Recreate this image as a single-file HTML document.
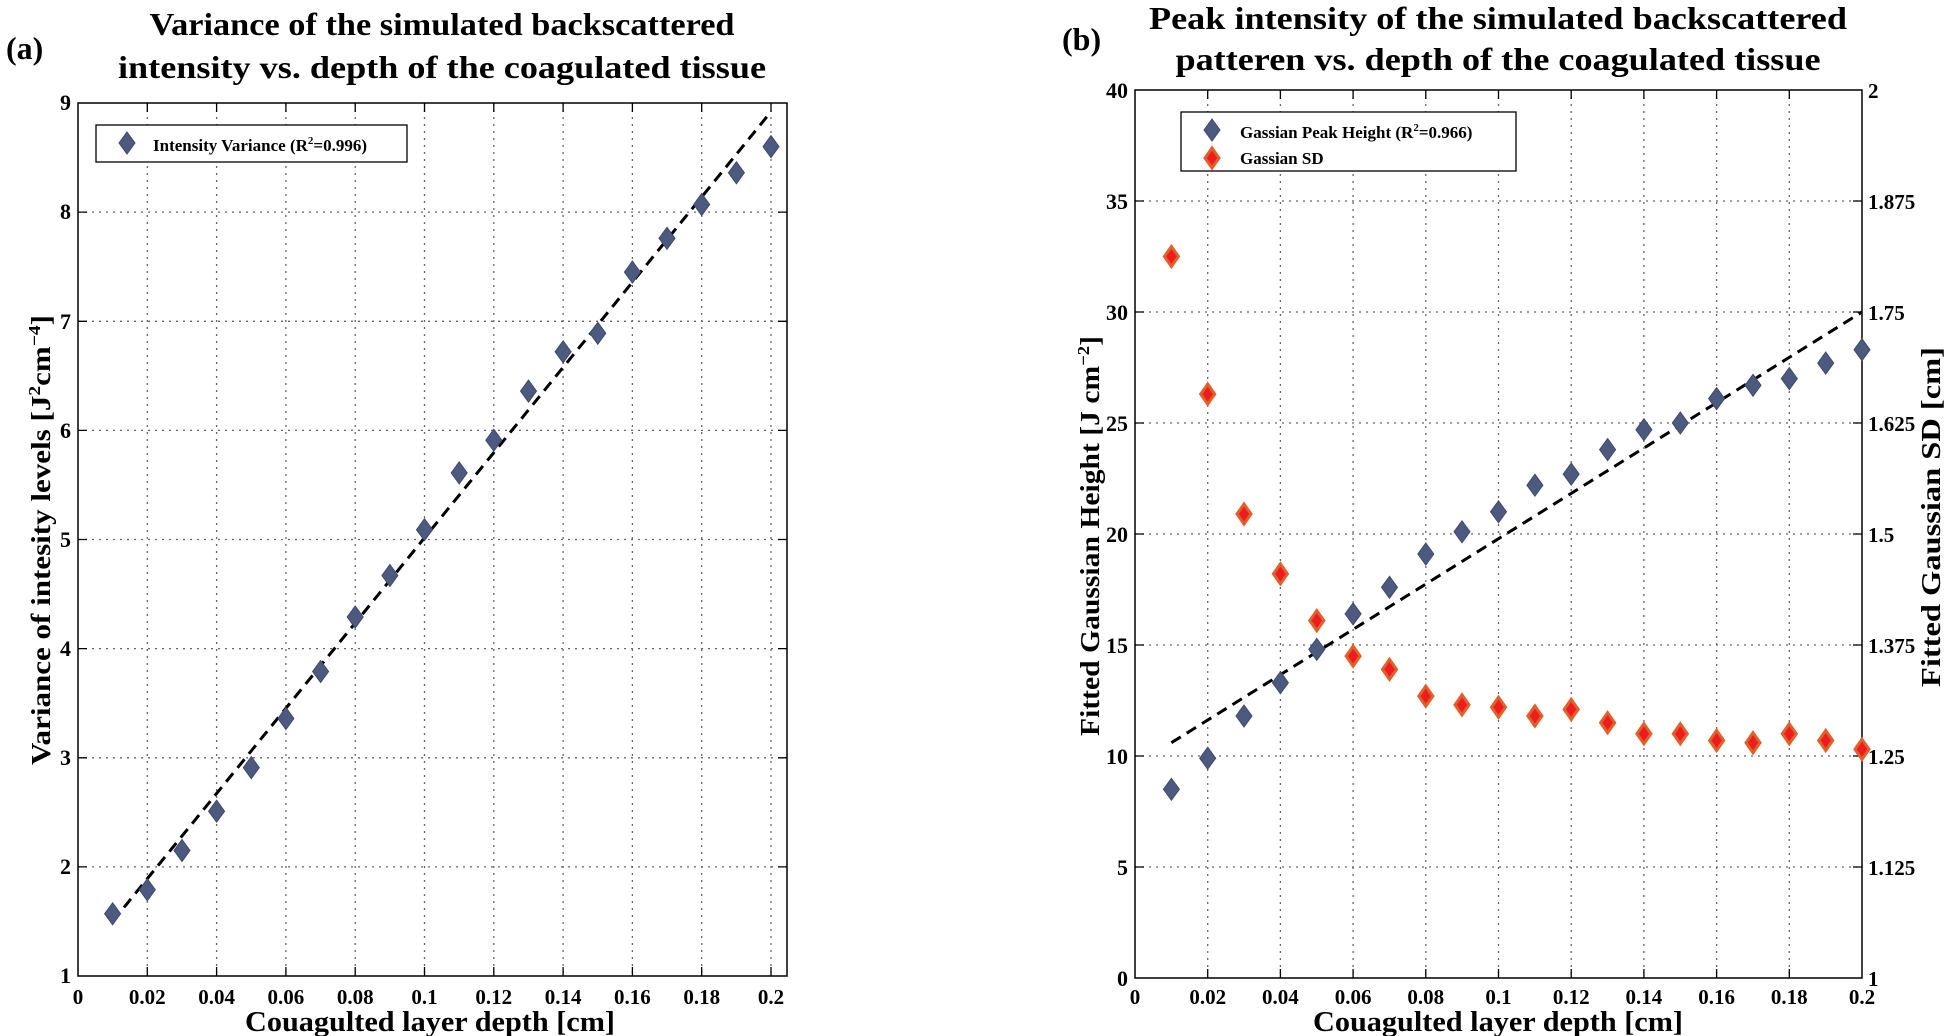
<!DOCTYPE html>
<html><head><meta charset="utf-8"><style>
html,body{margin:0;padding:0;background:#fff;}
svg{display:block;font-family:"Liberation Serif",serif;font-weight:bold;}
</style></head><body>
<svg width="1950" height="1036" viewBox="0 0 1950 1036" xmlns="http://www.w3.org/2000/svg">
<defs>
<path id="db" d="M0,-11 L8,0 0,11 -8,0Z" fill="#4d5a80" stroke="#3e4a6e" stroke-width="1"/>
<path id="dr" d="M0,-10 L7,0 0,10 -7,0Z" fill="#ee1c1c" stroke="#e0602c" stroke-width="3"/>
</defs>

<!-- ===== LEFT PANEL ===== -->
<text x="6" y="59" font-size="32">(a)</text>
<text x="442" y="35" font-size="32" text-anchor="middle" textLength="585" lengthAdjust="spacingAndGlyphs">Variance of the simulated backscattered</text>
<text x="442" y="78" font-size="32" text-anchor="middle" textLength="648" lengthAdjust="spacingAndGlyphs">intensity vs. depth of the coagulated tissue</text>

<g stroke="#666" stroke-width="1.3" stroke-dasharray="2,5" fill="none">
<path d="M147.3,103V976M216.6,103V976M285.9,103V976M355.2,103V976M424.5,103V976M493.8,103V976M563.1,103V976M632.4,103V976M701.7,103V976M771,103V976"/>
<path d="M78,866.9H787M78,757.8H787M78,648.6H787M78,539.5H787M78,430.4H787M78,321.3H787M78,212.1H787"/>
</g>
<rect x="78" y="103" width="709" height="873" fill="none" stroke="#000" stroke-width="1.5"/>
<g stroke="#000" stroke-width="1.3">
<path d="M147.3,976v-9M216.6,976v-9M285.9,976v-9M355.2,976v-9M424.5,976v-9M493.8,976v-9M563.1,976v-9M632.4,976v-9M701.7,976v-9M771,976v-9"/>
<path d="M147.3,103v9M216.6,103v9M285.9,103v9M355.2,103v9M424.5,103v9M493.8,103v9M563.1,103v9M632.4,103v9M701.7,103v9M771,103v9"/>
<path d="M78,866.9h9M78,757.8h9M78,648.6h9M78,539.5h9M78,430.4h9M78,321.3h9M78,212.1h9"/>
<path d="M787,866.9h-9M787,757.8h-9M787,648.6h-9M787,539.5h-9M787,430.4h-9M787,321.3h-9M787,212.1h-9"/>
</g>
<g font-size="22" text-anchor="end">
<text x="71" y="983">1</text><text x="71" y="874">2</text><text x="71" y="765">3</text><text x="71" y="656">4</text><text x="71" y="547">5</text><text x="71" y="438">6</text><text x="71" y="329">7</text><text x="71" y="219">8</text><text x="71" y="110">9</text>
</g>
<g font-size="21" text-anchor="middle">
<text x="78" y="1004">0</text><text x="147.3" y="1004">0.02</text><text x="216.6" y="1004">0.04</text><text x="285.9" y="1004">0.06</text><text x="355.2" y="1004">0.08</text><text x="424.5" y="1004">0.1</text><text x="493.8" y="1004">0.12</text><text x="563.1" y="1004">0.14</text><text x="632.4" y="1004">0.16</text><text x="701.7" y="1004">0.18</text><text x="771" y="1004">0.2</text>
</g>
<text x="430" y="1031" font-size="28" text-anchor="middle" textLength="370" lengthAdjust="spacingAndGlyphs">Couagulted layer depth [cm]</text>
<text transform="translate(50,540) rotate(-90)" font-size="27" text-anchor="middle" textLength="450" lengthAdjust="spacingAndGlyphs">Variance of intesity levels [J<tspan font-size="17" dy="-10">2</tspan><tspan dy="10">cm</tspan><tspan font-size="17" dy="-10">−4</tspan><tspan dy="10">]</tspan></text>

<line x1="112.6" y1="921.4" x2="771" y2="111.7" stroke="#000" stroke-width="3" stroke-dasharray="11,7"/>
<g>
<use href="#db" x="112.6" y="913.8"/><use href="#db" x="147.3" y="889.8"/><use href="#db" x="182" y="850.5"/><use href="#db" x="216.6" y="811.2"/><use href="#db" x="251.3" y="767.6"/><use href="#db" x="285.9" y="718.5"/><use href="#db" x="320.6" y="671.5"/><use href="#db" x="355.2" y="617"/><use href="#db" x="389.9" y="575.5"/><use href="#db" x="424.5" y="529.7"/><use href="#db" x="459.2" y="472.9"/><use href="#db" x="493.8" y="440.2"/><use href="#db" x="528.5" y="391.1"/><use href="#db" x="563.1" y="351.8"/><use href="#db" x="597.8" y="333.3"/><use href="#db" x="632.4" y="272.1"/><use href="#db" x="667" y="238.3"/><use href="#db" x="701.7" y="204.5"/><use href="#db" x="736.4" y="172.8"/><use href="#db" x="771" y="146.6"/>
</g>
<rect x="96" y="125" width="311" height="37" fill="#fff" stroke="#000" stroke-width="1.3"/>
<use href="#db" x="127" y="143"/>
<text x="153" y="151" font-size="17">Intensity Variance (R<tspan font-size="11" dy="-7">2</tspan><tspan dy="7">=0.996)</tspan></text>

<!-- ===== RIGHT PANEL ===== -->
<text x="1062" y="50" font-size="32">(b)</text>
<text x="1498" y="29" font-size="32" text-anchor="middle" textLength="698" lengthAdjust="spacingAndGlyphs">Peak intensity of the simulated  backscattered</text>
<text x="1498" y="70" font-size="32" text-anchor="middle" textLength="645" lengthAdjust="spacingAndGlyphs">patteren vs. depth of the coagulated tissue</text>

<g stroke="#666" stroke-width="1.3" stroke-dasharray="2,5" fill="none">
<path d="M1207.7,90V978M1280.4,90V978M1353.1,90V978M1425.8,90V978M1498.5,90V978M1571.2,90V978M1643.9,90V978M1716.6,90V978M1789.3,90V978"/>
<path d="M1135,867H1862M1135,756H1862M1135,645H1862M1135,534H1862M1135,423H1862M1135,312H1862M1135,201H1862"/>
</g>
<rect x="1135" y="90" width="727" height="888" fill="none" stroke="#000" stroke-width="1.5"/>
<g stroke="#000" stroke-width="1.3">
<path d="M1207.7,978v-9M1280.4,978v-9M1353.1,978v-9M1425.8,978v-9M1498.5,978v-9M1571.2,978v-9M1643.9,978v-9M1716.6,978v-9M1789.3,978v-9"/>
<path d="M1207.7,90v9M1280.4,90v9M1353.1,90v9M1425.8,90v9M1498.5,90v9M1571.2,90v9M1643.9,90v9M1716.6,90v9M1789.3,90v9"/>
<path d="M1135,867h9M1135,756h9M1135,645h9M1135,534h9M1135,423h9M1135,312h9M1135,201h9"/>
<path d="M1862,867h-9M1862,756h-9M1862,645h-9M1862,534h-9M1862,423h-9M1862,312h-9M1862,201h-9"/>
</g>
<g font-size="22" text-anchor="end">
<text x="1128" y="986">0</text><text x="1128" y="875">5</text><text x="1128" y="764">10</text><text x="1128" y="653">15</text><text x="1128" y="542">20</text><text x="1128" y="431">25</text><text x="1128" y="320">30</text><text x="1128" y="209">35</text><text x="1128" y="98">40</text>
</g>
<g font-size="21">
<text x="1868" y="986">1</text><text x="1868" y="875">1.125</text><text x="1868" y="764">1.25</text><text x="1868" y="653">1.375</text><text x="1868" y="542">1.5</text><text x="1868" y="431">1.625</text><text x="1868" y="320">1.75</text><text x="1868" y="209">1.875</text><text x="1868" y="98">2</text>
</g>
<g font-size="21" text-anchor="middle">
<text x="1135" y="1004">0</text><text x="1207.7" y="1004">0.02</text><text x="1280.4" y="1004">0.04</text><text x="1353.1" y="1004">0.06</text><text x="1425.8" y="1004">0.08</text><text x="1498.5" y="1004">0.1</text><text x="1571.2" y="1004">0.12</text><text x="1643.9" y="1004">0.14</text><text x="1716.6" y="1004">0.16</text><text x="1789.3" y="1004">0.18</text><text x="1862" y="1004">0.2</text>
</g>
<text x="1498" y="1031" font-size="28" text-anchor="middle" textLength="370" lengthAdjust="spacingAndGlyphs">Couagulted layer depth [cm]</text>
<text transform="translate(1099,536) rotate(-90)" font-size="27" text-anchor="middle" textLength="400" lengthAdjust="spacingAndGlyphs">Fitted Gaussian Height [J cm<tspan font-size="17" dy="-10">−2</tspan><tspan dy="10">]</tspan></text>
<text transform="translate(1940,517) rotate(-90)" font-size="27" text-anchor="middle" textLength="340" lengthAdjust="spacingAndGlyphs">Fitted Gaussian SD [cm]</text>

<line x1="1171.4" y1="742.7" x2="1862" y2="312" stroke="#000" stroke-width="3" stroke-dasharray="11,7"/>
<g>
<use href="#db" x="1171.4" y="789.3"/><use href="#db" x="1207.7" y="758.2"/><use href="#db" x="1244" y="716"/><use href="#db" x="1280.4" y="682.7"/><use href="#db" x="1316.8" y="649.4"/><use href="#db" x="1353.1" y="613.9"/><use href="#db" x="1389.5" y="587.3"/><use href="#db" x="1425.8" y="554"/><use href="#db" x="1462" y="531.8"/><use href="#db" x="1498.5" y="511.8"/><use href="#db" x="1534.9" y="485.2"/><use href="#db" x="1571.2" y="474.1"/><use href="#db" x="1607.6" y="449.6"/><use href="#db" x="1643.9" y="429.7"/><use href="#db" x="1680.3" y="423"/><use href="#db" x="1716.6" y="398.6"/><use href="#db" x="1753" y="385.3"/><use href="#db" x="1789.3" y="378.6"/><use href="#db" x="1825.7" y="363.1"/><use href="#db" x="1862" y="349.7"/>
</g>
<g>
<use href="#dr" x="1171.4" y="256.5"/><use href="#dr" x="1207.7" y="394.1"/><use href="#dr" x="1244" y="514"/><use href="#dr" x="1280.4" y="573.9"/><use href="#dr" x="1316.8" y="620.6"/><use href="#dr" x="1353.1" y="656.1"/><use href="#dr" x="1389.5" y="669.4"/><use href="#dr" x="1425.8" y="696.1"/><use href="#dr" x="1462" y="704.9"/><use href="#dr" x="1498.5" y="707.2"/><use href="#dr" x="1534.9" y="716"/><use href="#dr" x="1571.2" y="709.4"/><use href="#dr" x="1607.6" y="722.7"/><use href="#dr" x="1643.9" y="733.8"/><use href="#dr" x="1680.3" y="733.8"/><use href="#dr" x="1716.6" y="740.5"/><use href="#dr" x="1753" y="742.7"/><use href="#dr" x="1789.3" y="733.8"/><use href="#dr" x="1825.7" y="740.5"/><use href="#dr" x="1862" y="749.3"/>
</g>
<rect x="1181" y="112" width="335" height="59" fill="#fff" stroke="#000" stroke-width="1.3"/>
<use href="#db" x="1212" y="130"/>
<use href="#dr" x="1212" y="158"/>
<text x="1240" y="138" font-size="17">Gassian Peak Height (R<tspan font-size="11" dy="-7">2</tspan><tspan dy="7">=0.966)</tspan></text>
<text x="1240" y="164" font-size="17">Gassian SD</text>
</svg>
</body></html>
